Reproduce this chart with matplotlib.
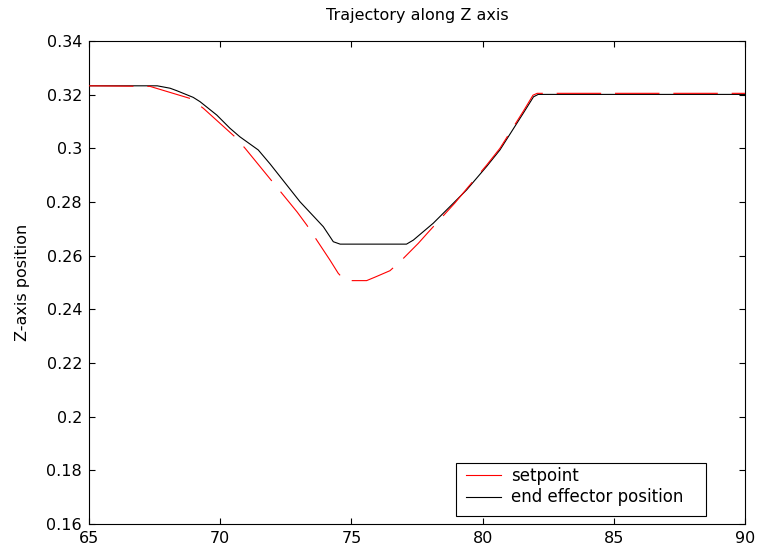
import matplotlib
matplotlib.use("Agg")
import matplotlib.pyplot as plt
from matplotlib.patches import Rectangle
from matplotlib.ticker import FuncFormatter, MultipleLocator

# ---- data ----
time_ee = [65.0, 67.6, 68.09, 68.34, 68.97, 69.23, 69.87, 70.37, 70.75, 71.45, 71.9,
           73.04, 73.93, 74.31, 74.57, 77.1, 77.36, 78.12, 78.88, 79.39, 80.15,
           80.66, 81.55, 81.94, 82.12, 90.0]
z_ee = [0.3233, 0.3233, 0.3224, 0.3215, 0.3190, 0.3174, 0.3124, 0.3075, 0.3043, 0.2994, 0.2942,
        0.2801, 0.2708, 0.2652, 0.2643, 0.2643, 0.2658, 0.2721, 0.2795, 0.2845, 0.2932,
        0.2994, 0.3131, 0.3192, 0.3201, 0.3201]

time_sp = [65.0, 67.32, 68.85, 69.36, 70.56, 70.95, 72.93, 73.30, 74.18, 74.5, 74.76,
           75.58, 75.9, 76.47, 76.92, 77.55, 77.87, 78.95, 79.4, 80.15, 80.66,
           81.55, 81.92, 82.08, 90.0]
z_sp = [0.3233, 0.3231, 0.3186, 0.3149, 0.3043, 0.3000, 0.2763, 0.2714, 0.2584, 0.2534, 0.2507,
        0.2507, 0.2520, 0.2544, 0.2584, 0.2646, 0.2681, 0.2797, 0.2850, 0.2937, 0.3000,
        0.3138, 0.3198, 0.3205, 0.3205]

title = "Trajectory along Z axis"
ylabel = "Z-axis position"
labels = ["setpoint", "end effector position"]

plt.rcParams['font.family'] = ['DejaVu Sans']
plt.rcParams['lines.scale_dashes'] = False

W, H = 759, 552
fig = plt.figure(figsize=(W / 100, H / 100), dpi=100)
ax = fig.add_axes([89 / W, 28 / H, 656 / W, 483 / H])

ax.plot(time_ee, z_ee, color='black', lw=0.8, label=labels[1], zorder=2)
ax.plot(time_sp, z_sp, color='red', lw=0.8, dashes=(32, 10), label=labels[0], zorder=3)

ax.set_xlim(65, 90)
ax.set_ylim(0.16, 0.34)
ax.xaxis.set_major_locator(MultipleLocator(5))
ax.yaxis.set_major_locator(MultipleLocator(0.02))
ax.yaxis.set_major_formatter(FuncFormatter(lambda v, p: ('%.2f' % v).rstrip('0')))
ax.tick_params(direction='in', length=4, width=0.8, top=True, right=True,
               labelsize=11.5, pad=5, colors='black')
for s in ax.spines.values():
    s.set_linewidth(0.8)

ax.set_title(title, fontsize=11.5, pad=15)
ax.set_ylabel(ylabel, fontsize=11.5, labelpad=12)

# legend frame (MATLAB-style box)
ax.add_patch(Rectangle((456 / W, 1 - 516 / H), 250 / W, 53 / H, transform=fig.transFigure,
                       facecolor='white', edgecolor='black', lw=0.8, clip_on=False, zorder=4))

handles, labs = ax.get_legend_handles_labels()
order = [1, 0]
leg = ax.legend([handles[i] for i in order], [labs[i] for i in order],
                loc='upper left', bbox_to_anchor=(466 / W, 1 - 467 / H),
                bbox_transform=fig.transFigure, borderaxespad=0, borderpad=0,
                fontsize=12, frameon=False, handlelength=2.1,
                handletextpad=0.62, labelspacing=0.2)
leg.set_zorder(5)
leg.legend_handles[0].set_linestyle('-')

fig.savefig("out.png", dpi=100)
